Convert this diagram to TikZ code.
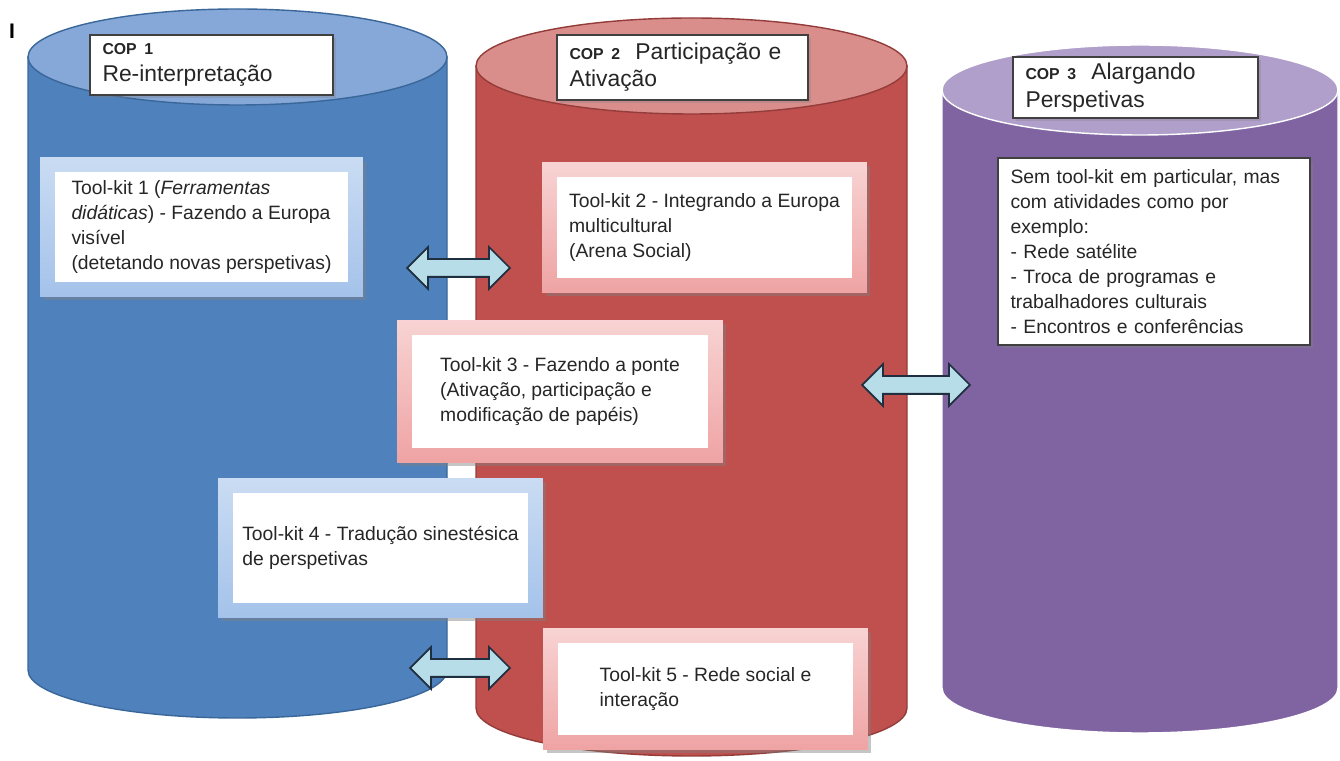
\documentclass[tikz,border=0pt]{standalone}
\usepackage{fontspec}
\setmainfont{Liberation Sans}
\usepackage{tikz}
\usetikzlibrary{shapes.arrows,shadows}
\definecolor{bluebody}{HTML}{4F81BD}
\definecolor{bluetop}{HTML}{86A8D8}
\definecolor{blueedge}{HTML}{3A6799}
\definecolor{redbody}{HTML}{C0504D}
\definecolor{redtop}{HTML}{D98E8C}
\definecolor{rededge}{HTML}{943C3A}
\definecolor{purplebody}{HTML}{8064A2}
\definecolor{purpletop}{HTML}{B09FCA}
\definecolor{purpleedge}{HTML}{FFFFFF}
\definecolor{kitbluetop}{HTML}{CADCF3}
\definecolor{kitbluebot}{HTML}{A4C2EA}
\definecolor{kitredtop}{HTML}{F8D3D3}
\definecolor{kitredbot}{HTML}{EFA3A3}
\definecolor{kittext}{HTML}{262626}
\definecolor{linkfill}{HTML}{B7DEE8}
\definecolor{linkedge}{HTML}{1F2F3F}
\definecolor{headedge}{HTML}{404040}
\newcommand{\kitfont}{\fontsize{11}{14.2}\selectfont}
\newcommand{\headfont}{\fontsize{13}{15.5}\selectfont}
\newcommand{\copfont}{\fontsize{9}{10}\selectfont\bfseries}
\tikzset{
  kitbox/.style = {minimum width=6.5cm,align=left,inner sep=0pt,font=\kitfont,text=kittext,
    drop shadow={shadow xshift=2pt,shadow yshift=-2pt,opacity=0.45},
    path picture={\fill[white] ([shift={(0.3cm,0.3cm)}]path picture bounding box.south west)
      rectangle ([shift={(-0.3cm,-0.3cm)}]path picture bounding box.north east);}},
  kitblue/.style  = {kitbox,top color=kitbluetop,bottom color=kitbluebot},
  kitred/.style   = {kitbox,top color=kitredtop,bottom color=kitredbot},
  notebox/.style  = {draw=headedge,line width=1.2pt,fill=white,align=left,font=\kitfont,text=kittext,
    inner xsep=0.25cm,drop shadow={shadow xshift=2pt,shadow yshift=-2pt,opacity=0.4}},
  headbox/.style  = {draw=headedge,line width=0.8pt,fill=white,align=left,font=\headfont,text=kittext,
    inner xsep=0.25cm,drop shadow={shadow xshift=1.5pt,shadow yshift=-1.5pt,opacity=0.3}},
  linkarrow/.style = {double arrow,draw=linkedge,fill=linkfill,line width=1pt,inner sep=0.16cm,
    double arrow head extend=0.24cm}
}
% cx, rx, y top, y bottom, ry, colour prefix
\newcommand{\copcyl}[6]{%
  \filldraw[fill=#6body,draw=#6edge,thick] (#1-#2,#3) -- (#1-#2,#4)
    arc[start angle=180,end angle=360,x radius={#2*0.02cm},y radius={#5*0.02cm}]
    -- (#1+#2,#3) -- cycle;
  \filldraw[fill=#6top,draw=#6edge,thick] (#1,#3) ellipse[x radius={#2*0.02cm},y radius={#5*0.02cm}];
}
\begin{document}
\begin{tikzpicture}[x=0.02cm,y=0.02cm]
  \useasboundingbox (0,0) rectangle (1340,761);
  \fill[white] (0,0) rectangle (1340,761);
  \copcyl{237.5}{209.5}{704}{91}{48}{blue}
  \copcyl{691.5}{215.5}{695}{53}{48}{red}
  \copcyl{1140}{198}{671}{73}{45}{purple}
  \node[font=\fontsize{12}{12}\selectfont\bfseries] (mark) at (12,730) {I};
  % headers
  \node[headbox,minimum width=4.86cm,minimum height=1.2cm,text width=4.36cm] (cop1) at (211.5,696)
    {{\copfont COP 1}\\Re-interpretação};
  \node[headbox,minimum width=5.02cm,minimum height=1.3cm,text width=4.52cm] (cop2) at (682.5,693.5)
    {{\copfont COP 2}~~Participação e\\Ativação};
  \node[headbox,minimum width=4.9cm,minimum height=1.22cm,text width=4.4cm] (cop3) at (1135.5,673.5)
    {{\copfont COP 3}~~Alargando\\Perspetivas};
  % tool-kits
  \node[kitblue,minimum width=6.46cm,minimum height=2.8cm] (kit1) at (201.5,534)
    {Tool-kit 1 (\textit{Ferramentas}\\\textit{didáticas}) - Fazendo a Europa\\visível\\(detetando novas perspetivas)};
  \node[kitred,minimum height=2.62cm] (kit2) at (704.5,533.5)
    {Tool-kit 2 - Integrando a Europa\\multicultural\\(Arena Social)};
  \node[kitred,minimum width=6.52cm,minimum height=2.86cm] (kit3) at (560,369.5)
    {Tool-kit 3 - Fazendo a ponte\\(Ativação, participação e\\modificação de papéis)};
  \node[kitblue,minimum height=2.8cm] (kit4) at (380.5,213)
    {Tool-kit 4 - Tradução sinestésica\\de perspetivas};
  \node[kitred,minimum height=2.44cm] (kit5) at (705.5,72)
    {Tool-kit 5 - Rede social e\\interação};
  \node[notebox,minimum width=6.24cm,minimum height=3.74cm,text width=5.74cm] (kit0) at (1154,509.5)
    {Sem tool-kit em particular, mas\\com atividades como por\\exemplo:\\- Rede satélite\\- Troca de programas e\\trabalhadores culturais\\- Encontros e conferências};
  % links
  \node[linkarrow,minimum height=2.06cm] (link12) at (458.5,493) {};
  \node[linkarrow,minimum height=2.16cm] (link23) at (916,376) {};
  \node[linkarrow,minimum height=2cm] (link45) at (460,93) {};
\end{tikzpicture}
\end{document}
